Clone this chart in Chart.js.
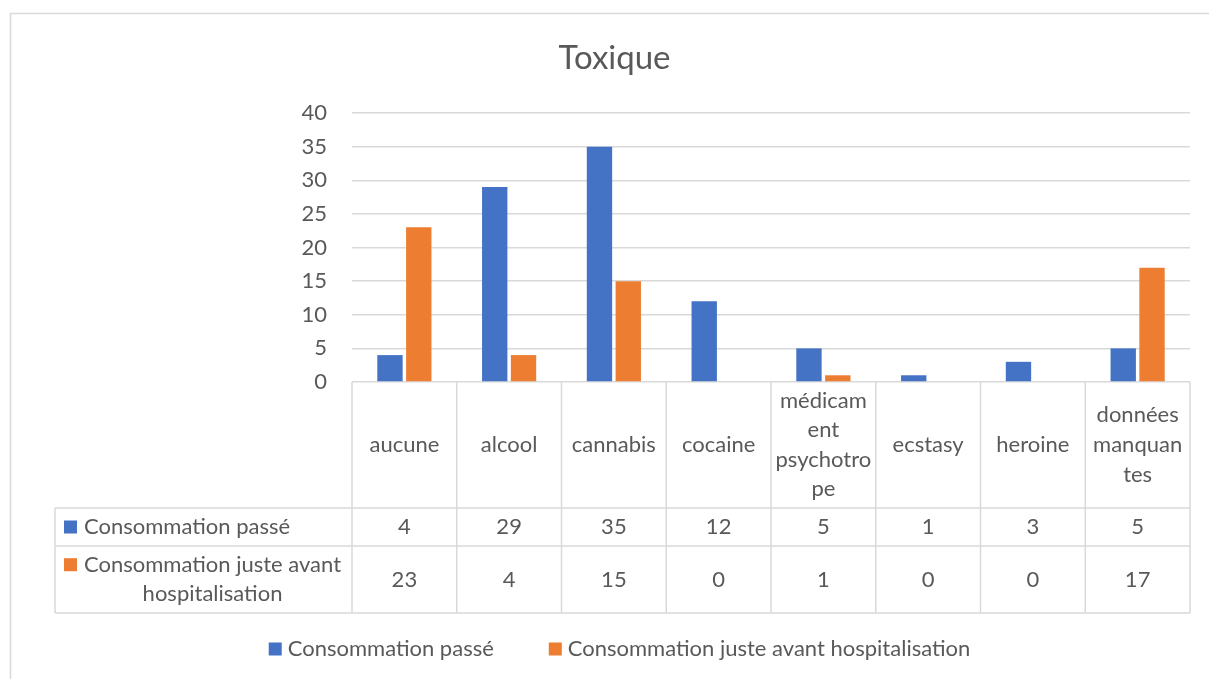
<!DOCTYPE html>
<html><head><meta charset="utf-8">
<script src="https://cdn.jsdelivr.net/npm/chart.js@4"></script>
<style>html,body{margin:0;padding:0;background:#fff;overflow:hidden}#wrap{width:1209px;height:679px;position:relative}</style>
</head><body><div id="wrap"><canvas id="c" width="1209" height="679"></canvas></div>
<script>
const chartTitle = "Toxique";
const categories = ["aucune","alcool","cannabis","cocaine","médicament psychotrope","ecstasy","heroine","données manquantes"];
const categoryLines = [["aucune"],["alcool"],["cannabis"],["cocaine"],["médicam","ent","psychotro","pe"],["ecstasy"],["heroine"],["données","manquan","tes"]];
const seriesNames = ["Consommation passé","Consommation juste avant hospitalisation"];
const seriesTableLines = [["Consommation passé"],["Consommation juste avant","hospitalisation"]];
const consommationPasse = [4,29,35,12,5,1,3,5];
const consommationAvant = [23,4,15,0,1,0,0,17];
const yTickValues = [0,5,10,15,20,25,30,35,40];
const seriesColors = ["#4472C4","#ED7D31"];

const FONT = "Lato, Carlito, 'Liberation Sans', sans-serif";
const FS = 22;
const TXT = "#595959";
const LINE = "#d9d9d9";

const tablePlugin = {
  id: 'tablePlugin',
  afterDraw(chart) {
    const ctx = chart.ctx;
    const xs = chart.scales.x;
    const ca = chart.chartArea;
    const n = categories.length;
    const bw = (ca.right - ca.left) / n;
    const bounds = [];
    for (let i = 0; i <= n; i++) bounds.push(ca.left + i * bw);
    const labelTop = ca.bottom;
    const row1Top = 508, row2Top = 546, tableBottom = 613, tableLeft = 55;
    ctx.save();
    // outer frame
    ctx.strokeStyle = LINE; ctx.lineWidth = 1.5;
    ctx.beginPath(); ctx.moveTo(10.5, 700); ctx.lineTo(10.5, 13.5); ctx.lineTo(1230, 13.5); ctx.stroke();
    // title
    ctx.fillStyle = TXT; ctx.textAlign = 'center'; ctx.textBaseline = 'middle';
    ctx.font = `${Math.round(FS*1.5)}px ${FONT}`;
    ctx.fillText(chartTitle, 614.5, 58);
    // table lines
    ctx.strokeStyle = LINE; ctx.lineWidth = 1.5;
    ctx.beginPath();
    for (let i = 0; i <= n; i++) { ctx.moveTo(bounds[i], labelTop); ctx.lineTo(bounds[i], tableBottom); }
    ctx.moveTo(tableLeft, row1Top); ctx.lineTo(tableLeft, tableBottom);
    [row1Top, row2Top, tableBottom].forEach(y => { ctx.moveTo(tableLeft, y); ctx.lineTo(ca.right, y); });
    ctx.stroke();
    // category labels
    ctx.font = `${FS}px ${FONT}`; ctx.fillStyle = TXT;
    const lh = 29.6;
    for (let i = 0; i < n; i++) {
      const cx = xs.getPixelForValue(i);
      const lines = categoryLines[i];
      const cy = (labelTop + row1Top) / 2;
      lines.forEach((t, k) => ctx.fillText(t, cx, cy + (k - (lines.length - 1) / 2) * lh));
    }
    // values
    const vals = [consommationPasse, consommationAvant];
    const rowCenters = [(row1Top + row2Top) / 2, (row2Top + tableBottom) / 2];
    vals.forEach((arr, r) => arr.forEach((v, i) => ctx.fillText(String(v), xs.getPixelForValue(i), rowCenters[r])));
    // row labels
    seriesTableLines.forEach((lines, r) => {
      const maxW = Math.max(...lines.map(t => ctx.measureText(t).width));
      const cxText = 84 + maxW / 2;
      lines.forEach((t, k) => {
        const y = rowCenters[r] + (k - (lines.length - 1) / 2) * lh;
        ctx.fillText(t, cxText, y);
      });
      const firstY = rowCenters[r] - (lines.length - 1) / 2 * lh;
      ctx.fillStyle = seriesColors[r];
      ctx.fillRect(64, firstY - 6.5, 13, 13);
      ctx.fillStyle = TXT;
    });
    // legend
    const w1 = ctx.measureText(seriesNames[0]).width;
    const w2 = ctx.measureText(seriesNames[1]).width;
    const total = 13 + 6 + w1 + 55 + 13 + 6 + w2;
    let x = 619.5 - total / 2;
    const ly = 649;
    ctx.textAlign = 'left';
    [w1, w2].forEach((w, s) => {
      ctx.fillStyle = seriesColors[s];
      ctx.fillRect(x, ly - 6.5, 13, 13);
      ctx.fillStyle = TXT;
      ctx.fillText(seriesNames[s], x + 19, ly);
      x += 19 + w + 55;
    });
    ctx.restore();
  }
};

new Chart(document.getElementById('c'), {
  type: 'bar',
  data: {
    labels: categories,
    datasets: [
      { label: seriesNames[0], data: consommationPasse, backgroundColor: seriesColors[0], categoryPercentage: 0.55, barPercentage: 0.88 },
      { label: seriesNames[1], data: consommationAvant, backgroundColor: seriesColors[1], categoryPercentage: 0.55, barPercentage: 0.88 }
    ]
  },
  options: {
    responsive: false, animation: false, devicePixelRatio: 1,
    layout: { padding: { left: 0, top: 113, right: 19, bottom: 679 - 382 } },
    plugins: { legend: { display: false }, title: { display: false }, tooltip: { enabled: false } },
    scales: {
      x: { display: false },
      y: {
        min: 0, max: 40,
        afterFit(s) { s.width = 352; },
        afterBuildTicks(s) { s.ticks = yTickValues.map(v => ({ value: v })); },
        ticks: { color: TXT, font: { family: FONT, size: FS }, padding: 25 },
        grid: { color: LINE, lineWidth: 1.5, drawTicks: false },
        border: { display: false }
      }
    }
  },
  plugins: [tablePlugin]
});
</script></body></html>
